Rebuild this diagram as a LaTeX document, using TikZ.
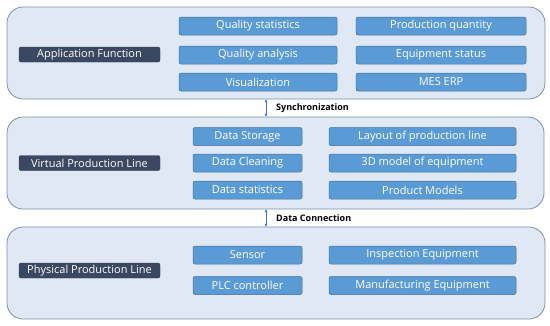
\documentclass[tikz,border=0pt]{standalone}
\usepackage{fontspec}
\setmainfont{Open Sans}
\usetikzlibrary{arrows.meta}
\definecolor{panelfill}{HTML}{DFE8F4}
\definecolor{paneldraw}{HTML}{7F8FA8}
\definecolor{darkfill}{HTML}{3A4862}
\definecolor{boxfill}{HTML}{5B9BD5}
\definecolor{boxdraw}{HTML}{41719C}
\definecolor{arrowcol}{HTML}{4472C4}
\begin{document}
\begin{tikzpicture}[x=1pt,y=-1pt,
  panel/.style={draw=paneldraw,fill=panelfill,line width=0.8pt,rounded corners=16pt},
  darklabel/.style={fill=darkfill,draw=darkfill!80!black,rounded corners=2pt,text=white,font=\fontsize{11}{13}\selectfont,minimum width=141pt,minimum height=15pt,inner sep=0pt},
  item/.style={fill=boxfill,draw=boxdraw,line width=0.5pt,rounded corners=2pt,text=white,font=\fontsize{11}{13}\selectfont,minimum height=18pt,inner sep=0pt},
  linkarrow/.style={draw=arrowcol,line width=0.8pt,{Stealth[length=3pt,width=3pt]}-{Stealth[length=3pt,width=3pt]}},
  linklabel/.style={font=\bfseries\fontsize{9}{11}\selectfont,anchor=west,inner sep=0pt}]
\useasboundingbox (0,0) rectangle (550,325);
% panels
\node[panel,minimum width=538pt,minimum height=92pt,inner sep=0pt] (p1) at (276,53) {};
\node[panel,minimum width=537pt,minimum height=92pt,inner sep=0pt] (p2) at (275.5,163) {};
\node[panel,minimum width=538pt,minimum height=92pt,inner sep=0pt] (p3) at (276,273) {};
% dark labels
\node[darklabel] (af) at (89.5,54.5) {Application Function};
\node[darklabel] (vpl) at (89.5,163) {Virtual Production Line};
\node[darklabel] (ppl) at (89.5,270.5) {Physical Production Line};
% panel 1 items
\node[item,minimum width=158pt] (qs) at (258,26) {Quality statistics};
\node[item,minimum width=158pt] (qa) at (258,55) {Quality analysis};
\node[item,minimum width=158pt] (vis) at (258,82) {Visualization};
\node[item,minimum width=170pt] (pq) at (441,26) {Production quantity};
\node[item,minimum width=170pt] (es) at (441,55) {Equipment status};
\node[item,minimum width=170pt] (mes) at (441,82) {MES ERP};
% panel 2 items
\node[item,minimum width=109pt] (ds) at (247.5,136.5) {Data Storage};
\node[item,minimum width=109pt] (dc) at (247.5,163) {Data Cleaning};
\node[item,minimum width=109pt] (dst) at (247.5,190) {Data statistics};
\node[item,minimum width=187pt] (lay) at (422.5,136.5) {Layout of production line};
\node[item,minimum width=187pt] (m3d) at (422.5,163) {3D model of equipment};
\node[item,minimum width=187pt] (pm) at (422.5,190) {Product Models};
% panel 3 items
\node[item,minimum width=109pt] (sen) at (247.5,255) {Sensor};
\node[item,minimum width=109pt] (plc) at (247.5,285.5) {PLC controller};
\node[item,minimum width=187pt] (ins) at (422.5,255) {Inspection Equipment};
\node[item,minimum width=187pt] (man) at (422.5,285.5) {Manufacturing Equipment};
% connectors
\draw[linkarrow] (p1.south -| 266,0) -- (p2.north -| 266,0);
\draw[linkarrow] (p2.south -| 266,0) -- (p3.north -| 266,0);
\node[linklabel] (sync) at (276,108) {Synchronization};
\node[linklabel] (dcon) at (276,218) {Data Connection};
\end{tikzpicture}
\end{document}
